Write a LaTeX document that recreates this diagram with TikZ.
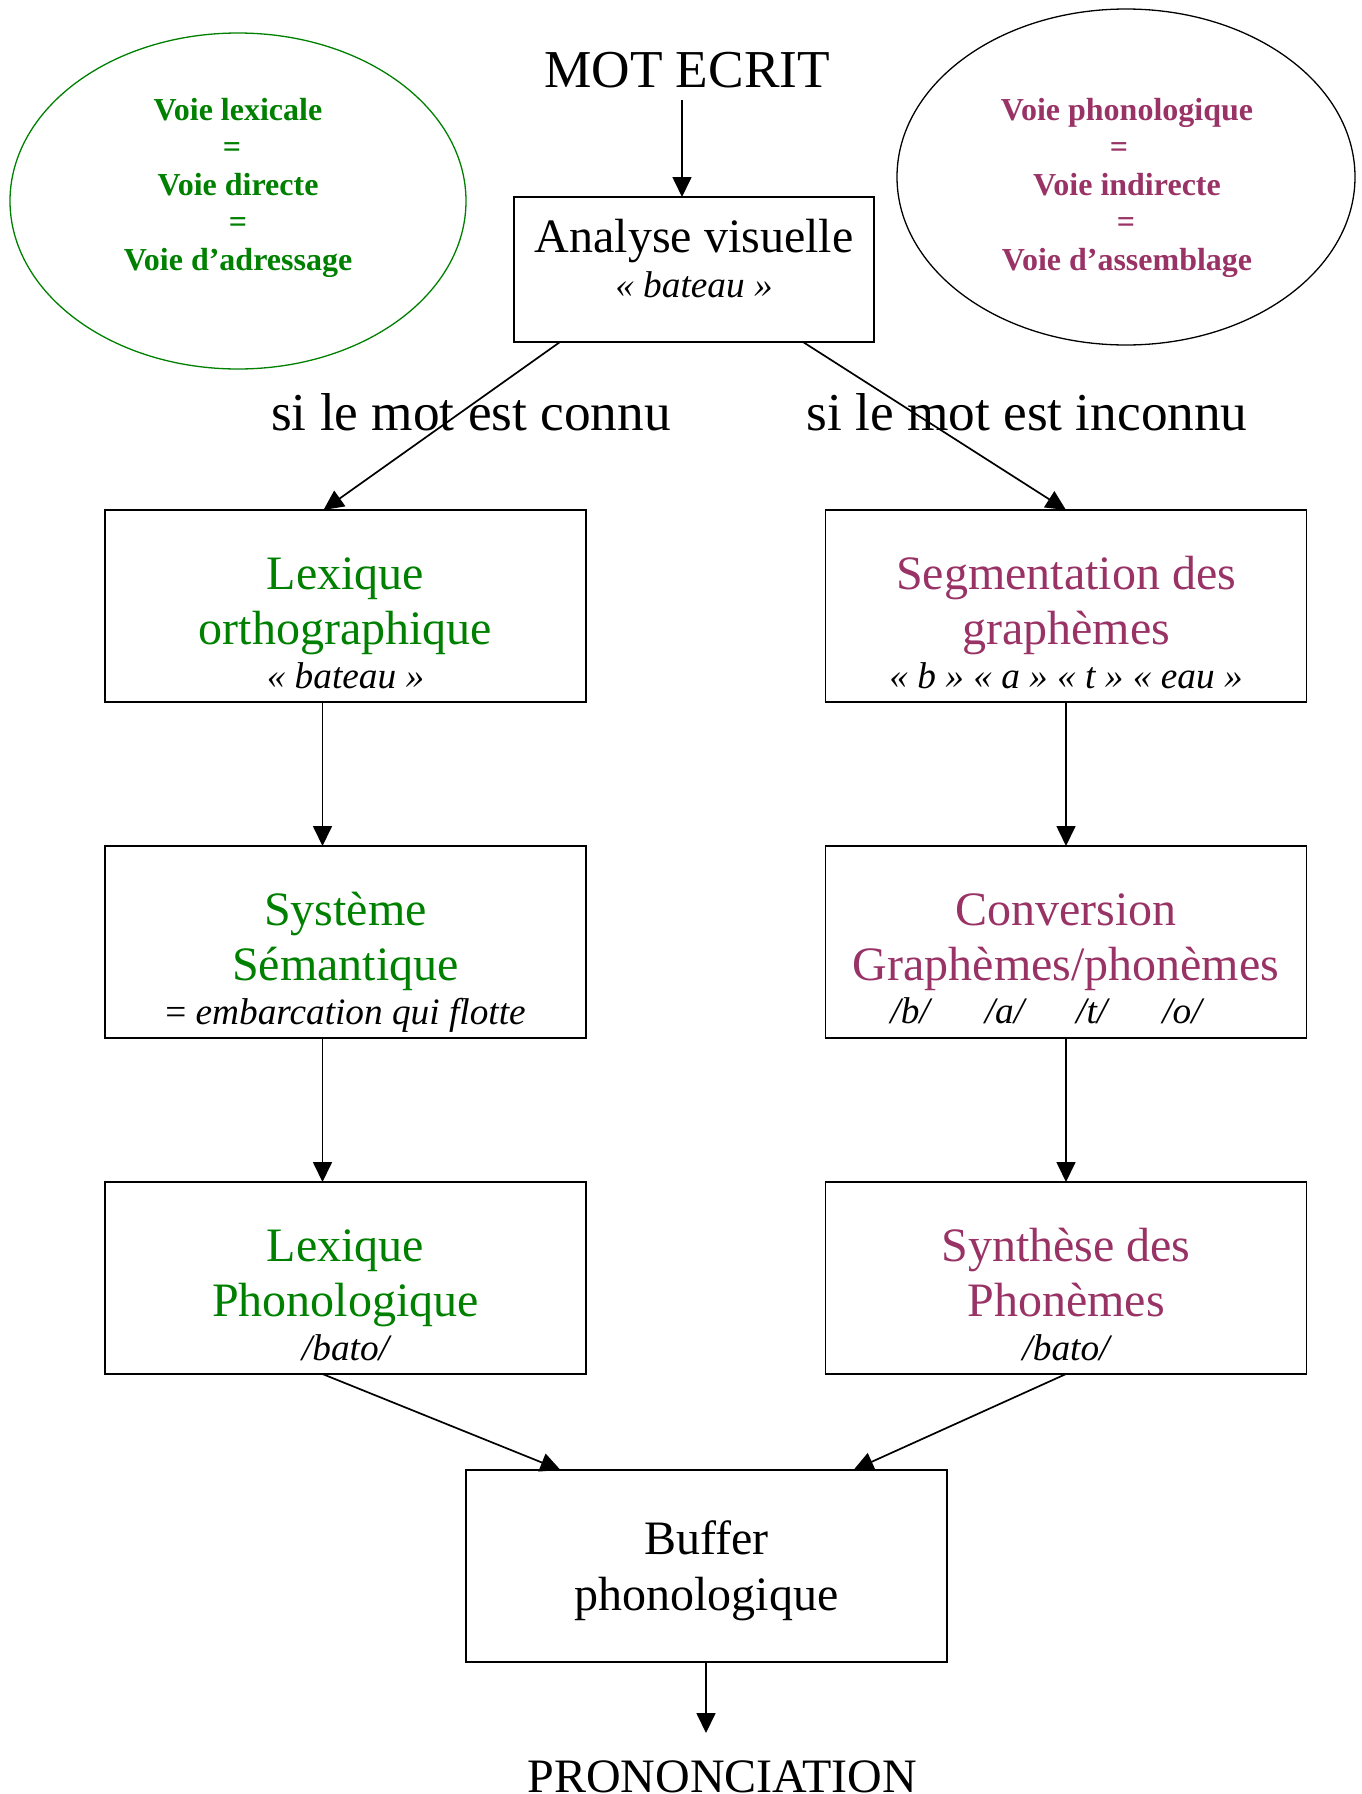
\documentclass[tikz,border=0pt]{standalone}
\usepackage{fontspec}
\setmainfont{Liberation Serif}
\usetikzlibrary{arrows.meta,shapes.geometric}
\definecolor{vgreen}{RGB}{0,128,0}
\definecolor{vplum}{RGB}{153,51,102}
\newcommand{\threelines}[6]{%
  \node[big, text=#3] (#1a) at ([yshift=-79pt]#2.north) {#4};
  \node[big, text=#3] (#1b) at ([yshift=-134pt]#2.north) {#5};
  \node[small] (#1c) at ([yshift=-178pt]#2.north) {#6};
}
\begin{document}
\begin{tikzpicture}[x=1pt,y=-1pt,
  box/.style={draw, line width=1.8pt, minimum width=481pt, minimum height=192pt, inner sep=0pt, outer sep=0pt},
  big/.style={anchor=base, inner sep=0pt, font=\fontsize{48}{55}\selectfont},
  small/.style={anchor=base, inner sep=0pt, font=\fontsize{37.3}{44}\selectfont\itshape},
  lab/.style={anchor=base, inner sep=0pt, font=\fontsize{53.3}{64}\selectfont},
  elltext/.style={anchor=base, inner sep=0pt, font=\fontsize{32}{37}\selectfont\bfseries},
  arr/.style={line width=1.7pt, -{Triangle[length=20pt,width=19pt]}},
]
\useasboundingbox (0,0) rectangle (1361,1794);

% ellipses
\node[draw=vgreen, line width=1.3pt, ellipse, minimum width=456pt, minimum height=336pt, inner sep=0pt] (le) at (238,201) {};
\node[elltext, text=vgreen] (le1) at (238,120) {Voie lexicale};
\node[elltext, text=vgreen] (le2) at (232,157.5) {=};
\node[elltext, text=vgreen] (le3) at (238,195) {Voie directe};
\node[elltext, text=vgreen] (le4) at (238,232.5) {=};
\node[elltext, text=vgreen] (le5) at (238,270) {Voie d’adressage};

\node[draw=black, line width=1.3pt, ellipse, minimum width=458pt, minimum height=336pt, inner sep=0pt] (re) at (1126,177) {};
\node[elltext, text=vplum] (re1) at (1127,120) {Voie phonologique};
\node[elltext, text=vplum] (re2) at (1119,157.5) {=};
\node[elltext, text=vplum] (re3) at (1127,195) {Voie indirecte};
\node[elltext, text=vplum] (re4) at (1126,232.5) {=};
\node[elltext, text=vplum] (re5) at (1127,270) {Voie d’assemblage};

% top
\node[lab] (mot) at (687,87) {MOT ECRIT};
\node[box, minimum width=360pt, minimum height=145pt] (ana) at (694,269.5) {};
\node[big] (anaa) at ([yshift=-55pt]ana.north) {Analyse visuelle};
\node[small] (anab) at ([yshift=-100pt]ana.north) {« bateau »};

\node[lab] (connu) at (471,430) {si le mot est connu};
\node[lab] (inconnu) at (1027,430) {si le mot est inconnu};

% boxes
\node[box] (lo) at (345.5,606) {};
\threelines{lo}{lo}{vgreen}{Lexique}{orthographique}{« bateau »}
\node[box] (seg) at (1066,606) {};
\threelines{seg}{seg}{vplum}{Segmentation des}{graphèmes}{« b » « a » « t » « eau »}
\node[box] (sys) at (345.5,942) {};
\threelines{sys}{sys}{vgreen}{Système}{Sémantique}{\upshape=\ \itshape embarcation qui flotte}
\node[box] (conv) at (1066,942) {};
\node[big, text=vplum] (conva) at ([yshift=-79pt]conv.north) {Conversion};
\node[big, text=vplum] (convb) at ([yshift=-134pt]conv.north) {Graphèmes/phonèmes};
\node[small] (convc) at ([xshift=-20pt,yshift=-177pt]conv.north) {/b/\hspace{55pt}/a/\hspace{52pt}/t/\hspace{55pt}/o/};
\node[box] (lp) at (345.5,1278) {};
\threelines{lp}{lp}{vgreen}{Lexique}{Phonologique}{/bato/}
\node[box] (syn) at (1066,1278) {};
\threelines{syn}{syn}{vplum}{Synthèse des}{Phonèmes}{/bato/}
\node[box] (buf) at (706.5,1566) {};
\node[big] (bufa) at ([yshift=-84pt]buf.north) {Buffer};
\node[big] (bufb) at ([yshift=-140pt]buf.north) {phonologique};
\node[big] (pron) at (722,1792) {PRONONCIATION};

% connectors
\draw[arr] ([xshift=-5pt,yshift=-13pt]mot.base) -- ([xshift=-12pt]ana.north);
\draw[arr] ([xshift=46pt]ana.south west) -- ([xshift=-22pt]lo.north);
\draw[arr] ([xshift=289pt]ana.south west) -- (seg.north);
\draw[arr] ([xshift=-23pt]lo.south) -- ([xshift=-23pt]sys.north);
\draw[arr] (seg.south) -- (conv.north);
\draw[arr] ([xshift=-23pt]sys.south) -- ([xshift=-23pt]lp.north);
\draw[arr] (conv.south) -- (syn.north);
\draw[arr] ([xshift=-23pt]lp.south) -- ([xshift=-146pt]buf.north);
\draw[arr] (syn.south) -- ([xshift=147pt]buf.north);
\draw[arr] ([xshift=-0.5pt]buf.south) -- ([xshift=-16pt,yshift=59pt]pron.base);
\end{tikzpicture}
\end{document}
